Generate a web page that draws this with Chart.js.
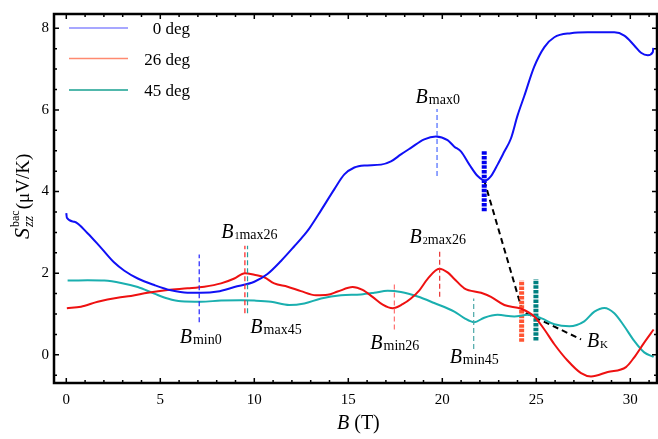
<!DOCTYPE html>
<html>
<head>
<meta charset="utf-8">
<script src="https://cdn.jsdelivr.net/npm/chart.js@4.4.1/dist/chart.umd.min.js"></script>
<style>
	html, body { margin: 0; padding: 0; background: #fff; }
	#wrap { width: 658px; height: 439px; }
</style>
</head>
<body>
<div id="wrap"><canvas id="chart_one" width="658" height="439"></canvas></div>
<script>
// series names for the legend
var seriesNames = ["0 deg", "26 deg", "45 deg"];

// 0 deg
var field0 = [0.0, 0.03, 0.43, 1.13, 1.85, 2.55, 3.09, 3.8, 4.68, 5.57, 6.45, 7.16, 8.05, 8.94, 10.0, 10.7, 11.42, 12.13, 12.66, 12.93, 13.55, 14.26, 14.79, 15.32, 15.85, 16.74, 17.27, 17.8, 18.33, 19.04, 19.66, 20.28, 20.64, 21.0, 21.44, 21.88, 22.27, 22.59, 22.94, 23.3, 23.65, 24.0, 24.36, 24.89, 25.43, 25.96, 26.84, 27.73, 29.15, 29.68, 30.21, 30.57, 30.93, 31.2, 31.22];
var seebeck0 = [3.47, 3.36, 3.26, 2.98, 2.62, 2.26, 2.06, 1.87, 1.71, 1.58, 1.52, 1.52, 1.55, 1.66, 1.79, 1.98, 2.30, 2.66, 2.94, 3.10, 3.54, 4.06, 4.42, 4.59, 4.64, 4.66, 4.74, 4.91, 5.07, 5.28, 5.35, 5.26, 5.10, 4.98, 4.66, 4.38, 4.27, 4.38, 4.66, 4.98, 5.30, 5.86, 6.34, 7.06, 7.54, 7.78, 7.88, 7.90, 7.90, 7.82, 7.58, 7.40, 7.34, 7.42, 7.52];

// 26 deg
var field26 = [0.03, 0.78, 1.67, 2.73, 3.44, 4.33, 5.39, 6.45, 7.34, 8.23, 8.94, 9.5, 10.0, 10.53, 11.06, 11.77, 12.48, 13.28, 13.9, 14.43, 15.23, 15.76, 16.29, 16.83, 17.36, 17.89, 18.33, 18.78, 19.22, 19.84, 20.28, 20.64, 21.17, 22.06, 22.59, 23.3, 24.19, 24.89, 25.43, 25.96, 26.66, 27.38, 27.91, 28.8, 29.77, 30.21, 30.74, 31.24];
var seebeck26 = [1.14, 1.18, 1.30, 1.40, 1.44, 1.52, 1.59, 1.63, 1.67, 1.75, 1.87, 2.00, 1.96, 1.90, 1.75, 1.67, 1.56, 1.46, 1.47, 1.55, 1.66, 1.59, 1.42, 1.23, 1.14, 1.24, 1.38, 1.58, 1.86, 2.11, 2.02, 1.86, 1.63, 1.52, 1.42, 1.22, 1.13, 0.94, 0.62, 0.26, -0.14, -0.45, -0.53, -0.42, -0.30, -0.06, 0.30, 0.62];

// 45 deg
var field45 = [0.07, 1.13, 2.02, 2.91, 3.8, 4.68, 5.39, 6.1, 7.16, 8.23, 9.29, 10.0, 10.89, 11.86, 12.66, 13.55, 14.61, 15.67, 16.38, 17.09, 17.8, 18.69, 19.57, 20.64, 21.17, 21.7, 22.23, 22.94, 23.83, 24.54, 25.25, 25.96, 26.76, 27.55, 28.09, 28.62, 29.15, 29.68, 30.21, 30.74, 31.24];
var seebeck45 = [1.82, 1.83, 1.82, 1.76, 1.66, 1.50, 1.38, 1.31, 1.30, 1.33, 1.34, 1.33, 1.30, 1.22, 1.26, 1.38, 1.46, 1.48, 1.52, 1.57, 1.54, 1.43, 1.27, 1.06, 0.90, 0.80, 0.91, 0.98, 0.94, 0.98, 0.90, 0.75, 0.70, 0.82, 1.06, 1.15, 1.02, 0.70, 0.34, 0.06, -0.05];

// tick labels
var xTicks = [0, 5, 10, 15, 20, 25, 30];
var yTicks = [0, 2, 4, 6, 8];

// dashed marker lines: [field, low, high]
var markMin0 = [7.07, 0.80, 2.46];
var mark1Max26 = [9.5, 1.02, 2.67];
var markMax45 = [9.64, 1.02, 2.67];
var markMax0 = [19.72, 4.38, 6.02];
var markMin26 = [17.45, 0.62, 1.78];
var mark2Max26 = [19.86, 1.42, 2.58];
var markMin45 = [21.67, 0.14, 1.38];

// thick kink bars: [field, low, high]
var kink0 = [22.23, 3.52, 4.99];
var kink26 = [24.22, 0.32, 1.82];
var kink45 = [24.98, 0.35, 1.86];

// B_K guide line
var kinkLineField = [22.23, 24.27, 27.38];
var kinkLineValue = [4.27, 1.06, 0.38];

// annotation texts: [pre, sub, field, value] (text anchor, left/baseline)
var annoLabels = [
	["", "min0", 6.03, 0.30],
	["1", "max26", 8.24, 2.86],
	["", "max45", 9.79, 0.53],
	["", "max0", 18.58, 6.17],
	["2", "max26", 18.26, 2.74],
	["", "min26", 16.17, 0.15],
	["", "min45", 20.39, -0.21],
	["", "K", 27.69, 0.18]
];

var toPoints = (xs, ys) => xs.map((x, i) => ({x: x, y: ys[i]}));
var vLine = (m) => [{x: m[0], y: m[1]}, {x: m[0], y: m[2]}];

var curve = (label, xs, ys, color) => ({
	label: label,
	data: toPoints(xs, ys),
	borderColor: color,
	borderWidth: 2,
	pointRadius: 0,
	fill: false,
	cubicInterpolationMode: "monotone"
});

var dashLine = (m, color, width, dash) => ({
	label: "",
	data: vLine(m),
	borderColor: color,
	borderWidth: width,
	borderDash: dash,
	pointRadius: 0,
	fill: false,
	tension: 0
});

var SERIF = "'Liberation Serif', 'DejaVu Serif', serif";

// little helper for B with subscript
var drawBLabel = (ctx, x, y, pre, sub) => {
	ctx.textAlign = "left";
	ctx.textBaseline = "alphabetic";
	ctx.font = "italic 20px " + SERIF;
	ctx.fillText("B", x, y);
	var cx = x + ctx.measureText("B").width + 1;
	if (pre) {
		ctx.font = "10px " + SERIF;
		ctx.fillText(pre, cx, y + 1);
		cx += ctx.measureText(pre).width;
	}
	// the K subscript is printed smaller
	ctx.font = (sub === "K" ? "11px " : "14px ") + SERIF;
	ctx.fillText(sub, cx, y + 1);
};

var decorPlugin = {
	id: "decor",
	afterDatasetsDraw: function(chart) {
		var ctx = chart.ctx;
		var xs = chart.scales.x, ys = chart.scales.y;
		var a = chart.chartArea;
		ctx.save();
		ctx.fillStyle = "#000";

		// annotation labels
		annoLabels.forEach((l) => {
			drawBLabel(ctx, xs.getPixelForValue(l[2]), ys.getPixelForValue(l[3]), l[0], l[1]);
		});

		// inward ticks on all sides
		ctx.strokeStyle = "#000";
		ctx.lineWidth = 1.5;
		ctx.beginPath();
		for (var b = 0; b <= 31; b++) {
			var px = xs.getPixelForValue(b);
			var len = (b % 5 === 0) ? 5 : 3;
			ctx.moveTo(px, a.bottom); ctx.lineTo(px, a.bottom - len);
			ctx.moveTo(px, a.top); ctx.lineTo(px, a.top + len);
		}
		for (var v = -0.5; v <= 8.01; v += 0.5) {
			var py = ys.getPixelForValue(v);
			var l2 = (Math.abs(v % 2) < 0.01) ? 5 : 3;
			ctx.moveTo(a.left, py); ctx.lineTo(a.left + l2, py);
			ctx.moveTo(a.right, py); ctx.lineTo(a.right - l2, py);
		}
		ctx.stroke();

		// frame
		ctx.lineWidth = 2.5;
		ctx.strokeRect(a.left, a.top, a.right - a.left, a.bottom - a.top);

		// legend
		var legendColors = ["#8a8aff", "#ff8a70", "#17a090"];
		var legendY = [28, 58.5, 90];
		ctx.lineWidth = 1.5;
		seriesNames.forEach((name, i) => {
			ctx.strokeStyle = legendColors[i];
			ctx.beginPath();
			ctx.moveTo(69, legendY[i]);
			ctx.lineTo(128, legendY[i]);
			ctx.stroke();
			ctx.font = "17px " + SERIF;
			ctx.textAlign = "right";
			ctx.textBaseline = "middle";
			ctx.fillText(name, 190, legendY[i] + 2);
		});

		// x axis title
		ctx.textAlign = "left";
		ctx.textBaseline = "alphabetic";
		ctx.font = "italic 20px " + SERIF;
		ctx.fillText("B", 337, 429);
		var bw = ctx.measureText("B").width;
		ctx.font = "20px " + SERIF;
		ctx.fillText(" (T)", 337 + bw, 429);

		// y axis title, rotated
		ctx.translate(29, 239);
		ctx.rotate(-Math.PI / 2);
		ctx.font = "italic 22px " + SERIF;
		ctx.fillText("S", 0, 0);
		var sx = ctx.measureText("S").width + 1;
		ctx.font = "italic 14px " + SERIF;
		ctx.fillText("zz", sx, 4);
		var zw = ctx.measureText("zz").width;
		ctx.font = "12px " + SERIF;
		ctx.fillText("bac", sx, -10);
		var bcw = ctx.measureText("bac").width;
		ctx.font = "19px " + SERIF;
		ctx.fillText("(\u03bcV/K)", sx + Math.max(zw, bcw) + 1, 0);
		ctx.restore();
	}
};

var ctx_one = document.getElementById("chart_one").getContext("2d");

var chart_one = new Chart(ctx_one, {
	type: "line",
	data: {
		datasets: [
			dashLine(markMin0, "#2222ff", 1.2, [5, 3]),
			dashLine(mark1Max26, "#ff2020", 1.2, [5, 3]),
			dashLine(markMax45, "#22a0a0", 1.2, [5, 3]),
			dashLine(markMax0, "#4a6aff", 1.2, [5, 3]),
			dashLine(markMin26, "#ff7070", 1.2, [5, 3]),
			dashLine(mark2Max26, "#e83030", 1.2, [5, 3]),
			dashLine(markMin45, "#4aa8a8", 1.2, [5, 3]),
			curve(seriesNames[0], field0, seebeck0, "#1010f5"),
			curve(seriesNames[1], field26, seebeck26, "#ee1111"),
			curve(seriesNames[2], field45, seebeck45, "#1aafaf"),
			dashLine(kink0, "#0000ee", 5, [3.5, 1.2]),
			dashLine(kink26, "#ff5533", 5, [3.5, 1.2]),
			dashLine(kink45, "#008080", 5, [3.5, 1.2]),
			{
				label: "",
				data: toPoints(kinkLineField, kinkLineValue),
				borderColor: "#000",
				borderWidth: 2,
				borderDash: [6, 4],
				pointRadius: 0,
				fill: false,
				tension: 0
			}
		]
	},
	options: {
		responsive: false,
		devicePixelRatio: 1,
		animation: false,
		layout: { padding: { left: 0, top: 6, right: 1, bottom: 0 } },
		plugins: {
			legend: { display: false },
			tooltip: { enabled: false }
		},
		scales: {
			x: {
				type: "linear",
				min: -0.654,
				max: 31.42,
				grid: { display: false, drawTicks: false },
				border: { display: false },
				afterFit: function(scale) { scale.height = 56; },
				afterBuildTicks: function(scale) { scale.ticks = xTicks.map((v) => ({value: v})); },
				ticks: {
					padding: 8,
					color: "#000",
					font: { family: SERIF, size: 15 }
				}
			},
			y: {
				type: "linear",
				min: -0.69,
				max: 8.35,
				grid: { display: false, drawTicks: false },
				border: { display: false },
				afterFit: function(scale) { scale.width = 54; },
				afterBuildTicks: function(scale) { scale.ticks = yTicks.map((v) => ({value: v})); },
				ticks: {
					padding: 5,
					color: "#000",
					font: { family: SERIF, size: 15 }
				}
			}
		}
	},
	plugins: [decorPlugin]
});
</script>
</body>
</html>
